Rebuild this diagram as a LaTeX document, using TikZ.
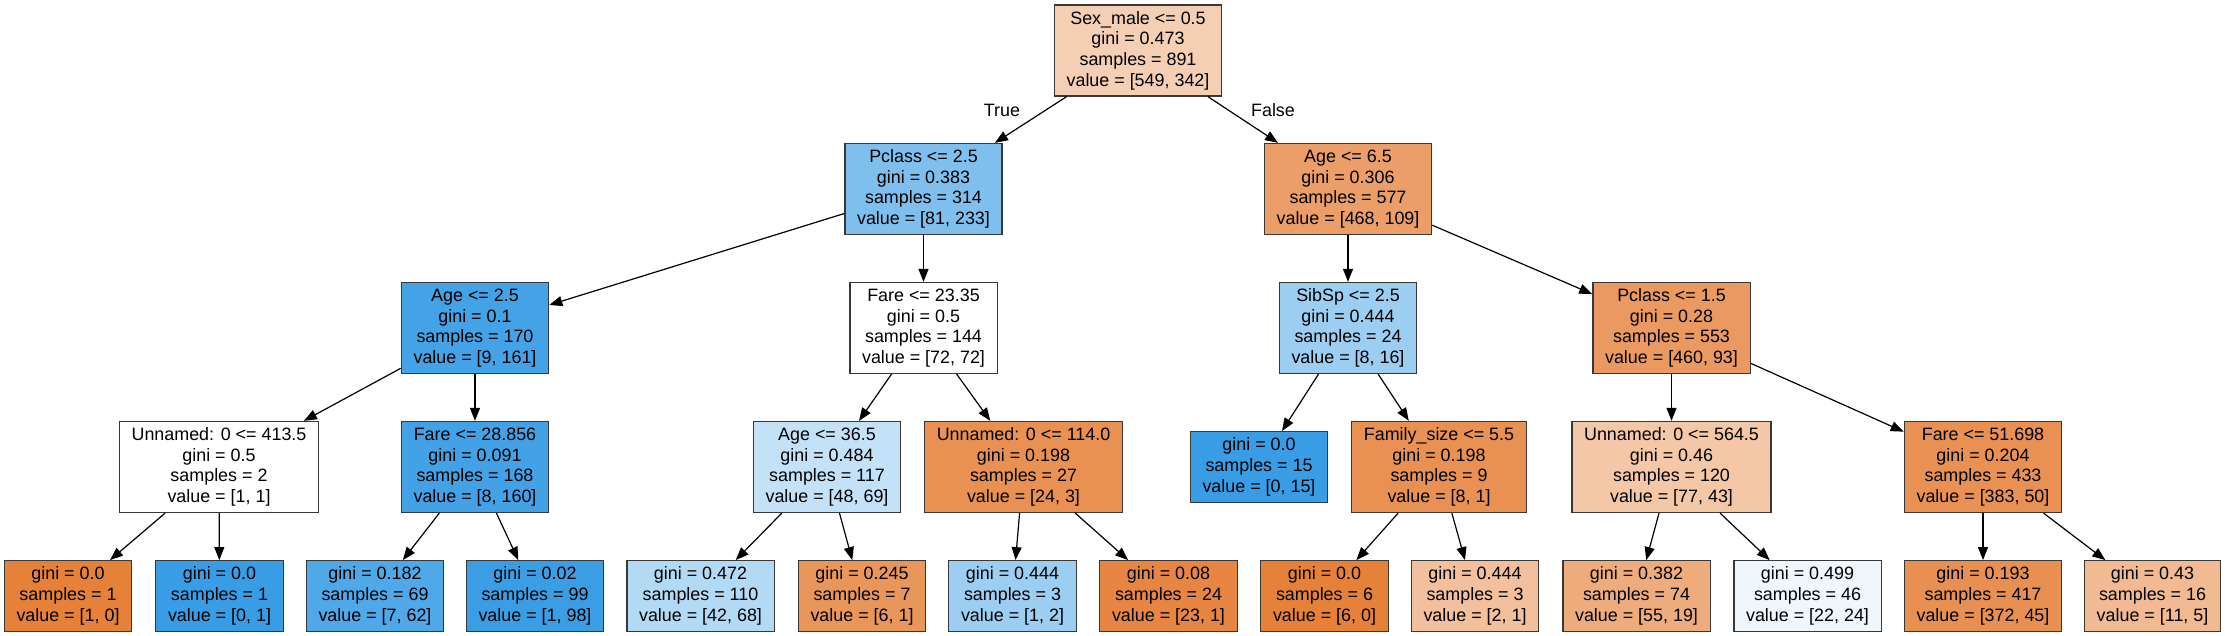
\documentclass[tikz,border=0pt]{standalone}
\usepackage{fontspec}
\setmainfont{Liberation Sans}
\usetikzlibrary{arrows.meta}
\definecolor{cO}{RGB}{229,129,57}
\definecolor{cB}{RGB}{57,157,229}
\newcommand\nfont{\fontsize{17.9}{20.7}\selectfont}
\tikzset{
  tn/.style={draw=black!78, line width=1.3pt, rectangle, align=center, font=\nfont,
    inner xsep=12.2pt, inner ysep=0pt, minimum height=91pt},
  lf/.style={tn, minimum height=70.5pt},
  ed/.style={draw=black, line width=1.2pt, -{Triangle[length=13pt,width=10pt]}},
  lab/.style={font=\nfont, inner sep=0pt},
}
\begin{document}
\begin{tikzpicture}[x=1pt,y=-1pt]
\useasboundingbox (0,0) rectangle (2225,636);
% level 0
\node[tn, fill=cO!37.7!white] (root) at (1138,50.5) {Sex\_male <= 0.5\\gini = 0.473\\samples = 891\\value = [549, 342]};
% level 1
\node[tn, fill=cB!65.2!white] (n1) at (923.5,189) {Pclass <= 2.5\\gini = 0.383\\samples = 314\\value = [81, 233]};
\node[tn, fill=cO!76.7!white] (n2) at (1348,189) {Age <= 6.5\\gini = 0.306\\samples = 577\\value = [468, 109]};
% level 2
\node[tn, fill=cB!94.4!white] (n3) at (475,328) {Age <= 2.5\\gini = 0.1\\samples = 170\\value = [9, 161]};
\node[tn, fill=white] (n4) at (923.5,328) {Fare <= 23.35\\gini = 0.5\\samples = 144\\value = [72, 72]};
\node[tn, fill=cB!50!white] (n5) at (1348,328) {SibSp <= 2.5\\gini = 0.444\\samples = 24\\value = [8, 16]};
\node[tn, fill=cO!79.8!white] (n6) at (1671.5,328) {Pclass <= 1.5\\gini = 0.28\\samples = 553\\value = [460, 93]};
% level 3
\node[tn, fill=white] (n7) at (219,467) {Unnamed: 0 <= 413.5\\gini = 0.5\\samples = 2\\value = [1, 1]};
\node[tn, fill=cB!95!white] (n8) at (475,467) {Fare <= 28.856\\gini = 0.091\\samples = 168\\value = [8, 160]};
\node[tn, fill=cB!30.4!white] (n9) at (827,467) {Age <= 36.5\\gini = 0.484\\samples = 117\\value = [48, 69]};
\node[tn, fill=cO!87.5!white] (n10) at (1023.5,467) {Unnamed: 0 <= 114.0\\gini = 0.198\\samples = 27\\value = [24, 3]};
\node[lf, fill=cB] (n11) at (1259,467) {gini = 0.0\\samples = 15\\value = [0, 15]};
\node[tn, fill=cO!87.5!white] (n12) at (1439,467) {Family\_size <= 5.5\\gini = 0.198\\samples = 9\\value = [8, 1]};
\node[tn, fill=cO!44.2!white] (n13) at (1671.5,467) {Unnamed: 0 <= 564.5\\gini = 0.46\\samples = 120\\value = [77, 43]};
\node[tn, fill=cO!86.9!white] (n14) at (1983,467) {Fare <= 51.698\\gini = 0.204\\samples = 433\\value = [383, 50]};
% leaves
\node[lf, fill=cO] (l1) at (68,596) {gini = 0.0\\samples = 1\\value = [1, 0]};
\node[lf, fill=cB] (l2) at (219.5,596) {gini = 0.0\\samples = 1\\value = [0, 1]};
\node[lf, fill=cB!88.7!white] (l3) at (375,596) {gini = 0.182\\samples = 69\\value = [7, 62]};
\node[lf, fill=cB!99!white] (l4) at (535,596) {gini = 0.02\\samples = 99\\value = [1, 98]};
\node[lf, fill=cB!38.2!white] (l5) at (700.5,596) {gini = 0.472\\samples = 110\\value = [42, 68]};
\node[lf, fill=cO!83.3!white] (l6) at (862,596) {gini = 0.245\\samples = 7\\value = [6, 1]};
\node[lf, fill=cB!50!white] (l7) at (1012.5,596) {gini = 0.444\\samples = 3\\value = [1, 2]};
\node[lf, fill=cO!95.7!white] (l8) at (1168.5,596) {gini = 0.08\\samples = 24\\value = [23, 1]};
\node[lf, fill=cO] (l9) at (1324.5,596) {gini = 0.0\\samples = 6\\value = [6, 0]};
\node[lf, fill=cO!50!white] (l10) at (1475,596) {gini = 0.444\\samples = 3\\value = [2, 1]};
\node[lf, fill=cO!65.5!white] (l11) at (1636.5,596) {gini = 0.382\\samples = 74\\value = [55, 19]};
\node[lf, fill=cB!8.3!white] (l12) at (1807.5,596) {gini = 0.499\\samples = 46\\value = [22, 24]};
\node[lf, fill=cO!87.9!white] (l13) at (1983,596) {gini = 0.193\\samples = 417\\value = [372, 45]};
\node[lf, fill=cO!54.5!white] (l14) at (2152.5,596) {gini = 0.43\\samples = 16\\value = [11, 5]};
% edges
\draw[ed] (root) -- (n1);
\draw[ed] (root) -- (n2);
\draw[ed] (n1) -- (n3);
\draw[ed] (n1) -- (n4);
\draw[ed] (n2) -- (n5);
\draw[ed] (n2) -- (n6);
\draw[ed] (n3) -- (n7);
\draw[ed] (n3) -- (n8);
\draw[ed] (n4) -- (n9);
\draw[ed] (n4) -- (n10);
\draw[ed] (n5) -- (n11);
\draw[ed] (n5) -- (n12);
\draw[ed] (n6) -- (n13);
\draw[ed] (n6) -- (n14);
\draw[ed] (n7) -- (l1);
\draw[ed] (n7) -- (l2);
\draw[ed] (n8) -- (l3);
\draw[ed] (n8) -- (l4);
\draw[ed] (n9) -- (l5);
\draw[ed] (n9) -- (l6);
\draw[ed] (n10) -- (l7);
\draw[ed] (n10) -- (l8);
\draw[ed] (n12) -- (l9);
\draw[ed] (n12) -- (l10);
\draw[ed] (n13) -- (l11);
\draw[ed] (n13) -- (l12);
\draw[ed] (n14) -- (l13);
\draw[ed] (n14) -- (l14);
% edge labels
\node[lab] (lblT) at (1002,110) {True};
\node[lab] (lblF) at (1273,110) {False};
\end{tikzpicture}
\end{document}
